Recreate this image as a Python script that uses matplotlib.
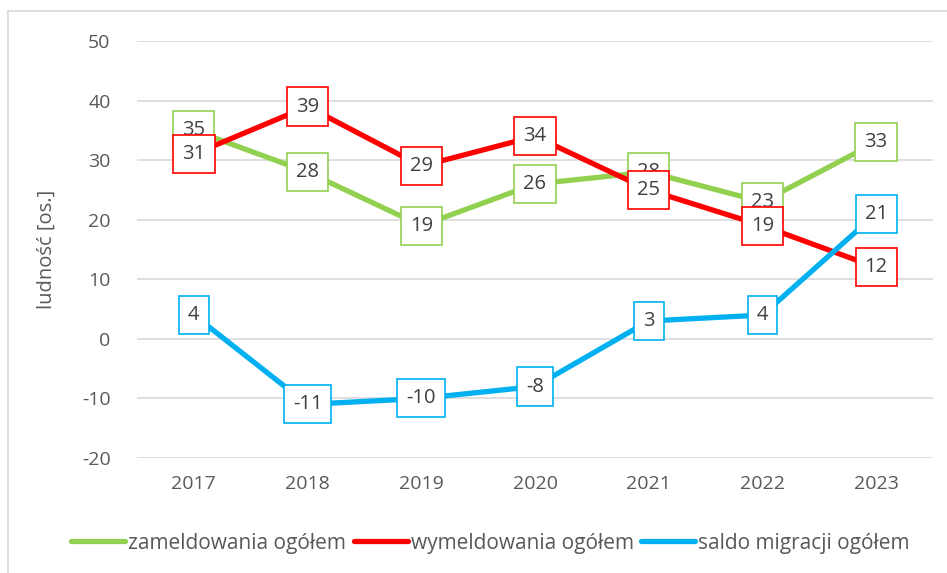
import matplotlib.pyplot as plt
from matplotlib.lines import Line2D

years = ['2017', '2018', '2019', '2020', '2021', '2022', '2023']
zameldowania = [35, 28, 19, 26, 28, 23, 33]
wymeldowania = [31, 39, 29, 34, 25, 19, 12]
saldo = [4, -11, -10, -8, 3, 4, 21]

series = [
    ('zameldowania ogółem', zameldowania, '#92D050'),
    ('wymeldowania ogółem', wymeldowania, '#FF0000'),
    ('saldo migracji ogółem', saldo, '#00B0F0'),
]

plt.rcParams['font.family'] = ['Open Sans', 'DejaVu Sans']
plt.rcParams['axes.unicode_minus'] = False
text_color = '#595959'

W, H = 947, 573
fig = plt.figure(figsize=(W / 100, H / 100), dpi=100)
ax = fig.add_axes([137 / W, 1 - 458 / H, (933 - 137) / W, (458 - 41) / H])

x = list(range(len(years)))
for i, (name, vals, color) in enumerate(series):
    ax.plot(x, vals, color=color, lw=3.8, label=name, zorder=3 + i,
            solid_capstyle='round')
# data labels: later series drawn on top, as in the original
for i, (name, vals, color) in enumerate(series):
    for xi, v in zip(x, vals):
        ax.text(xi, v, str(v), ha='center', va='center', fontsize=14.5,
                color='#404040', zorder=10 + i,
                bbox=dict(boxstyle='square,pad=0.45', fc='white', ec=color, lw=1.2))

ax.set_xlim(-0.5, len(years) - 0.5)
ax.set_ylim(-20, 50)
ax.set_yticks(range(-20, 51, 10))
ax.set_xticks(x)
ax.set_xticklabels(years)
ax.grid(axis='y', color='#D9D9D9', lw=1.2)
ax.set_axisbelow(True)
for s in ax.spines.values():
    s.set_visible(False)
ax.tick_params(length=0, labelsize=14, colors=text_color, pad=19)
ax.tick_params(axis='x', pad=12)
ax.set_ylabel('ludność [os.]', fontsize=14.5, color=text_color, labelpad=18)

fig.legend(loc='center', bbox_to_anchor=(0.518, 1 - 543 / H), ncol=3, frameon=False,
           fontsize=15, handlelength=2.6, handletextpad=0.15, columnspacing=0.35,
           labelcolor=text_color)

# chart border
fig.add_artist(Line2D([8 / W, 8 / W], [0, 1 - 11 / H], color='#D9D9D9', lw=1.2,
                      transform=fig.transFigure))
fig.add_artist(Line2D([8 / W, 1], [1 - 11 / H, 1 - 11 / H], color='#D9D9D9', lw=1.2,
                      transform=fig.transFigure))

fig.savefig('out.png', dpi=100)
